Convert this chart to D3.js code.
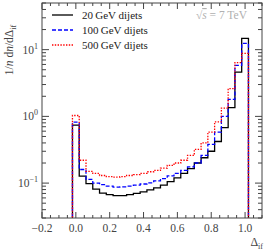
<!DOCTYPE html>
<html>
<head>
<meta charset="utf-8">
<script src="https://cdn.jsdelivr.net/npm/d3@7"></script>
<style>
  body { margin: 0; background: #fff; }
  text { font-family: "Liberation Serif", "DejaVu Serif", serif; }
</style>
</head>
<body>
<div id="chart"></div>
<script>
// bin centres (width 0.04)
var binCenters = d3.range(26).map(function(i) { return +(i * 0.04).toFixed(2); });
var binWidth = 0.04;

var series20 = [0.74, 0.127, 0.098, 0.081, 0.071, 0.067, 0.065, 0.065, 0.067, 0.07, 0.074, 0.079, 0.085,
                0.093, 0.105, 0.12, 0.14, 0.165, 0.2, 0.24, 0.3, 0.42, 0.68, 1.35, 4.6, 14.8];
var series100 = [0.82, 0.16, 0.114, 0.1, 0.095, 0.09, 0.087, 0.088, 0.09, 0.093, 0.097, 0.101, 0.108,
                 0.117, 0.128, 0.14, 0.155, 0.175, 0.2, 0.26, 0.38, 0.58, 1.0, 1.8, 5.8, 12.4];
var series500 = [1.03, 0.22, 0.15, 0.14, 0.13, 0.125, 0.123, 0.125, 0.13, 0.134, 0.14, 0.148, 0.155,
                 0.168, 0.185, 0.2, 0.22, 0.26, 0.32, 0.4, 0.58, 0.83, 1.33, 2.6, 6.4, 8.8];

var seriesNames = ["20\u2009GeV dijets", "100\u2009GeV dijets", "500\u2009GeV dijets"];
var xTickValues = [-0.2, 0.0, 0.2, 0.4, 0.6, 0.8, 1.0];
var yTickExponents = [-1, 0, 1];

var W = 266, H = 251;
var margin = {top: 3, right: 4, bottom: 33, left: 42};
var width = W - margin.left - margin.right,
    height = H - margin.top - margin.bottom;
var axisColor = "#444";

var svg = d3.select("#chart").append("svg")
    .attr("width", W)
    .attr("height", H);

var g = svg.append("g")
    .attr("transform", "translate(" + margin.left + "," + margin.top + ")");

var x = d3.scaleLinear().domain([-0.2, 1.1]).range([0, width]);
var y = d3.scaleLog().domain([0.03, 50]).range([height, 0]);

svg.append("defs").append("clipPath").attr("id", "clip")
  .append("rect").attr("width", width).attr("height", height);

// histogram outlines
function stepPoints(values) {
    var pts = [[x(binCenters[0] - binWidth / 2), height + 5]];
    values.forEach(function(v, i) {
        var lo = binCenters[i] - binWidth / 2, hi = binCenters[i] + binWidth / 2;
        pts.push([x(lo), y(v)]);
        pts.push([x(hi), y(v)]);
    });
    pts.push([x(binCenters[binCenters.length - 1] + binWidth / 2), height + 5]);
    return pts;
}

var line = d3.line();
var styles = [
    {data: series20, color: "#000", dash: null, w: 1.3},
    {data: series100, color: "#0000ff", dash: "4,2", w: 1.3},
    {data: series500, color: "#ff0000", dash: "1.4,1.4", w: 1.3}
];

var plot = g.append("g").attr("clip-path", "url(#clip)");
styles.forEach(function(s) {
    plot.append("path")
        .attr("d", line(stepPoints(s.data)))
        .attr("fill", "none")
        .attr("stroke", s.color)
        .attr("stroke-width", s.w)
        .attr("stroke-dasharray", s.dash);
});

// frame
g.append("rect")
    .attr("width", width).attr("height", height)
    .attr("fill", "none").attr("stroke", axisColor).attr("stroke-width", 1);

// x ticks (bottom + top, inward)
var xMinor = d3.range(-0.2, 1.1001, 0.05).map(function(d) { return +d.toFixed(2); });
xMinor.forEach(function(d) {
    var major = xTickValues.some(function(t) { return Math.abs(t - d) < 1e-6; });
    var len = major ? 6 : 3;
    g.append("line").attr("x1", x(d)).attr("x2", x(d)).attr("y1", height).attr("y2", height - len)
        .attr("stroke", axisColor);
    g.append("line").attr("x1", x(d)).attr("x2", x(d)).attr("y1", 0).attr("y2", len)
        .attr("stroke", axisColor);
});
xTickValues.forEach(function(d) {
    g.append("text")
        .attr("x", x(d)).attr("y", height + 14)
        .attr("text-anchor", "middle")
        .attr("font-size", 11.5)
        .attr("fill", axisColor)
        .text(d3.format(".1f")(d).replace("-", "\u2212"));
});

// y ticks (left + right, inward)
var yMinor = [];
[-2, -1, 0, 1].forEach(function(k) {
    d3.range(1, 10).forEach(function(m) {
        var v = m * Math.pow(10, k);
        if (v >= 0.03 && v <= 50) yMinor.push({v: v, major: m === 1});
    });
});
yMinor.forEach(function(t) {
    var len = t.major ? 7 : 4;
    g.append("line").attr("x1", 0).attr("x2", len).attr("y1", y(t.v)).attr("y2", y(t.v))
        .attr("stroke", axisColor);
    g.append("line").attr("x1", width).attr("x2", width - len).attr("y1", y(t.v)).attr("y2", y(t.v))
        .attr("stroke", axisColor);
});
yTickExponents.forEach(function(e) {
    var t = g.append("text")
        .attr("x", -4).attr("y", y(Math.pow(10, e)) + 4)
        .attr("text-anchor", "end")
        .attr("font-size", 11.5)
        .attr("fill", axisColor);
    t.append("tspan").text("10");
    t.append("tspan").attr("dy", -5).attr("font-size", 8).text(e < 0 ? "\u2212" + (-e) : e);
});

// axis titles
var xl = svg.append("text")
    .attr("x", 263).attr("y", 246)
    .attr("text-anchor", "end")
    .attr("font-size", 12)
    .attr("fill", axisColor);
xl.append("tspan").text("\u0394");
xl.append("tspan").attr("dy", 2.5).attr("font-size", 8).text("if");

var yl = svg.append("text")
    .attr("transform", "translate(13,50) rotate(-90)")
    .attr("text-anchor", "middle")
    .attr("font-size", 11.5)
    .attr("fill", axisColor);
yl.append("tspan").text("1/");
yl.append("tspan").attr("font-style", "italic").text("n");
yl.append("tspan").text(" d");
yl.append("tspan").attr("font-style", "italic").text("n");
yl.append("tspan").text("/d\u0394");
yl.append("tspan").attr("dy", 2.5).attr("font-size", 8).text("if");

// legend
styles.forEach(function(s, i) {
    var ly = 15 + i * 15;
    svg.append("line")
        .attr("x1", 52).attr("x2", 73).attr("y1", ly).attr("y2", ly)
        .attr("stroke", s.color).attr("stroke-width", s.w)
        .attr("stroke-dasharray", s.dash);
    svg.append("text")
        .attr("x", 82).attr("y", ly + 4)
        .attr("font-size", 11)
        .attr("fill", "#222")
        .text(seriesNames[i]);
});

// energy label
var el = svg.append("text")
    .attr("x", 247).attr("y", 19)
    .attr("text-anchor", "end")
    .attr("font-size", 11.5)
    .attr("fill", "#b0b0b0");
el.append("tspan").text("\u221A");
el.append("tspan").attr("font-style", "italic").attr("text-decoration", "overline").text("s");
el.append("tspan").text(" = 7 TeV");
</script>
</body>
</html>
